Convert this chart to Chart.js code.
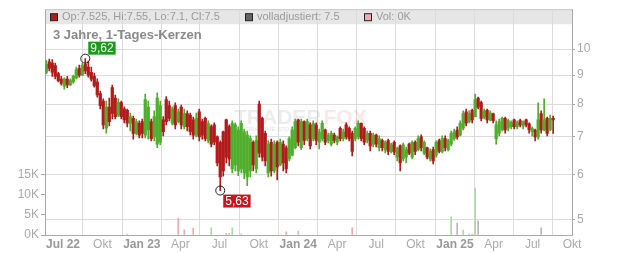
<!DOCTYPE html>
<html>
<head>
<meta charset="utf-8">
<script src="https://cdn.jsdelivr.net/npm/chart.js@4.4.1/dist/chart.umd.min.js"></script>
<style>
  body { margin: 0; background: #fff; }
  canvas { display: block; }
</style>
</head>
<body>
<canvas id="chart" width="632" height="253"></canvas>
<script>
// ---------------- DATA (weekly candles) ----------------
const firstWeek = "2022-05-23";

const open = [
  9.10, 9.50, 9.45, 9.35, 9.05, 8.85, 8.60, 8.85, 8.65, 8.75,
  8.90, 9.25, 9.00, 9.40, 9.30, 9.10, 8.95, 8.75, 8.35, 8.10,
  7.25, 7.90, 8.55, 8.20, 7.65, 8.05, 7.85, 7.80, 7.40, 7.55,
  7.10, 7.40, 7.45, 7.05, 7.20, 7.45, 7.00, 6.80, 6.85, 7.50,
  8.15, 7.95, 7.40, 7.95, 7.45, 7.90, 7.30, 7.70, 7.65, 7.50,
  7.05, 7.75, 7.45, 7.55, 6.90, 7.30, 7.35, 7.00, 6.85, 7.15,
  7.50, 7.30, 6.15, 6.25, 6.10, 6.15, 6.05, 5.95, 6.10, 6.85,
  6.15, 8.00, 7.55, 7.10, 6.05, 6.85, 6.10, 6.85, 6.25, 6.80,
  6.70, 6.40, 6.50, 6.70, 7.50, 6.70, 7.45, 6.95, 7.35, 6.95,
  7.35, 6.85, 6.95, 7.20, 6.90, 6.80, 7.05, 6.85, 7.25, 6.95,
  7.35, 7.25, 7.10, 6.95, 7.00, 7.40, 7.25, 6.90, 7.10, 6.80,
  7.05, 6.70, 6.90, 6.65, 6.90, 6.60, 6.85, 6.45, 6.75, 6.40,
  6.45, 6.80, 6.45, 6.85, 6.65, 7.00, 6.55, 6.70, 6.40, 6.65,
  6.50, 6.90, 6.60, 6.95, 6.65, 6.80, 6.95, 7.20, 7.05, 7.25,
  7.75, 7.45, 7.80, 7.60, 8.20, 8.05, 7.58, 7.80, 7.50, 7.70,
  6.95, 7.10, 7.20, 7.55, 7.25, 7.30, 7.50, 7.30, 7.48, 7.32,
  7.50, 7.38, 7.15, 7.20, 7.00, 7.70, 7.20, 7.55, 7.20, 7.55
];
const high = [
  9.55, 9.60, 9.58, 9.45, 9.10, 8.95, 8.90, 8.95, 8.86, 9.00,
  9.30, 9.37, 9.45, 9.62, 9.53, 9.30, 9.07, 8.86, 8.43, 8.17,
  8.10, 8.20, 8.64, 8.30, 8.17, 8.10, 7.91, 7.84, 7.71, 7.62,
  7.53, 7.47, 7.53, 8.33, 8.10, 7.53, 7.78, 8.37, 8.10, 7.60,
  8.25, 8.10, 7.91, 8.04, 7.84, 7.97, 7.84, 7.78, 7.71, 7.59,
  7.71, 7.84, 7.53, 7.59, 7.47, 7.35, 7.41, 7.03, 6.89, 7.17,
  7.53, 7.35, 7.47, 7.41, 7.29, 7.47, 7.23, 7.17, 7.03, 6.89,
  7.03, 8.10, 7.59, 7.17, 6.89, 6.94, 6.89, 6.89, 6.94, 6.89,
  6.75, 7.00, 7.29, 7.53, 7.53, 7.53, 7.47, 7.53, 7.41, 7.47,
  7.41, 7.23, 7.47, 7.23, 7.11, 7.17, 7.11, 7.03, 7.29, 7.23,
  7.41, 7.29, 7.17, 7.29, 7.47, 7.41, 7.29, 7.17, 7.17, 7.11,
  7.08, 7.03, 6.94, 6.89, 6.94, 6.83, 6.89, 6.72, 6.78, 6.83,
  6.72, 6.83, 6.89, 6.89, 7.03, 7.06, 6.89, 6.72, 6.67, 6.72,
  6.89, 6.94, 7.03, 7.03, 6.94, 7.17, 7.23, 7.29, 7.47, 7.78,
  7.84, 7.78, 7.84, 8.33, 8.23, 8.10, 7.84, 7.84, 7.78, 7.71,
  7.47, 7.53, 7.59, 7.59, 7.53, 7.47, 7.53, 7.47, 7.53, 7.47,
  7.53, 7.41, 7.29, 7.23, 8.04, 7.78, 8.17, 7.59, 7.65, 7.62
];
const low = [
  9.05, 9.15, 8.95, 8.86, 8.75, 8.64, 8.50, 8.55, 8.62, 8.70,
  8.86, 8.92, 8.98, 9.05, 8.92, 8.78, 8.57, 8.23, 7.84, 7.23,
  7.11, 7.32, 7.53, 7.53, 7.60, 7.53, 7.41, 7.29, 7.17, 6.94,
  7.06, 6.97, 6.97, 6.97, 6.94, 6.89, 6.89, 6.70, 6.78, 7.03,
  7.35, 7.47, 7.35, 7.23, 7.41, 7.23, 7.23, 7.17, 7.06, 6.94,
  7.00, 6.89, 6.94, 6.89, 6.83, 6.72, 6.78, 6.22, 5.63, 5.97,
  6.30, 6.22, 6.05, 6.10, 5.98, 6.05, 5.91, 5.74, 5.95, 6.10,
  6.05, 6.45, 6.35, 6.22, 5.95, 5.97, 6.05, 5.88, 6.22, 6.10,
  6.05, 6.35, 6.48, 6.67, 6.75, 6.65, 6.78, 6.89, 6.67, 6.89,
  6.78, 6.67, 6.89, 6.78, 6.83, 6.75, 6.83, 6.78, 6.89, 6.89,
  6.94, 6.89, 6.48, 6.89, 6.94, 6.89, 6.78, 6.83, 6.61, 6.72,
  6.72, 6.61, 6.61, 6.56, 6.51, 6.56, 6.51, 6.35, 6.10, 6.35,
  6.30, 6.51, 6.40, 6.51, 6.61, 6.61, 6.51, 6.40, 6.35, 6.27,
  6.45, 6.56, 6.56, 6.61, 6.61, 6.75, 6.90, 6.94, 7.03, 7.20,
  7.32, 7.41, 7.41, 7.59, 7.84, 7.47, 7.53, 7.41, 7.47, 7.41,
  6.80, 7.03, 7.17, 7.11, 7.17, 7.23, 7.23, 7.23, 7.29, 7.23,
  7.29, 7.11, 7.03, 6.89, 6.94, 7.11, 7.17, 7.03, 7.17, 7.10
];
const close = [
  9.40, 9.25, 9.10, 8.95, 8.80, 8.70, 8.85, 8.65, 8.80, 8.95,
  9.20, 9.00, 9.35, 9.15, 9.00, 8.85, 8.62, 8.30, 7.95, 7.35,
  7.90, 7.45, 7.70, 7.60, 8.05, 7.60, 7.50, 7.40, 7.60, 7.10,
  7.45, 7.05, 7.10, 8.15, 7.90, 6.95, 7.60, 8.20, 7.95, 7.15,
  7.45, 7.55, 7.85, 7.35, 7.75, 7.35, 7.70, 7.30, 7.15, 7.05,
  7.55, 7.00, 7.05, 6.95, 7.40, 6.80, 6.85, 6.30, 5.95, 6.10,
  6.45, 6.40, 7.40, 7.35, 7.20, 7.40, 7.15, 7.05, 6.95, 6.25,
  6.90, 6.55, 6.45, 6.35, 6.80, 6.10, 6.80, 6.20, 6.85, 6.30,
  6.15, 6.95, 7.20, 7.45, 6.85, 7.45, 6.90, 7.45, 6.75, 7.40,
  6.90, 7.15, 7.40, 6.85, 7.05, 7.10, 6.90, 7.00, 6.95, 7.15,
  7.00, 6.95, 6.60, 7.25, 7.40, 6.95, 6.85, 7.10, 6.75, 7.05,
  6.80, 6.95, 6.70, 6.85, 6.60, 6.78, 6.58, 6.68, 6.30, 6.78,
  6.65, 6.55, 6.85, 6.60, 6.95, 6.70, 6.85, 6.45, 6.60, 6.35,
  6.85, 6.60, 6.95, 6.70, 6.90, 7.10, 7.15, 7.00, 7.40, 7.70,
  7.40, 7.70, 7.50, 8.15, 7.90, 7.55, 7.78, 7.50, 7.72, 7.48,
  7.35, 7.45, 7.55, 7.20, 7.48, 7.42, 7.30, 7.42, 7.35, 7.45,
  7.35, 7.20, 7.25, 7.00, 7.50, 7.20, 7.50, 7.10, 7.55, 7.50
];

// volume: week index, shares, direction (u = up, d = down, n = unchanged)
const volWeek = [27, 44, 46, 49, 55, 60, 61, 62, 65, 80, 84, 102, 135, 137, 139, 141, 142, 143, 144, 165];
const volValue = [200, 4200, 1300, 1700, 1800, 400, 400, 1800, 300, 800, 1000, 1800, 4500, 3000, 1200, 300, 200, 11700, 3500, 1800];
const volDir = ["d", "d", "d", "d", "u", "d", "d", "u", "u", "d", "u", "d", "u", "n", "u", "u", "d", "u", "n", "n"];

const tickDates = ["2022-07-01", "2022-10-01", "2023-01-01", "2023-04-01", "2023-07-01", "2023-10-01", "2024-01-01",
                   "2024-04-01", "2024-07-01", "2024-10-01", "2025-01-01", "2025-04-01", "2025-07-01", "2025-10-01"];
const tickLabels = ["Jul 22", "Okt", "Jan 23", "Apr", "Jul", "Okt", "Jan 24", "Apr", "Jul", "Okt", "Jan 25", "Apr", "Jul", "Okt"];
const priceTicks = [5, 6, 7, 8, 9, 10];
const volTicks = [0, 5000, 10000, 15000];

const lastBar = { op: "7.525", hi: "7.55", lo: "7.1", cl: "7.5", adj: "7.5", vol: "0K" };

// ---------------- HELPERS ----------------
const RED = "#b31b1b";
const GREEN = "#4fae2c";
const FONT = "'Liberation Sans', Arial, sans-serif";

function dayNum(iso) {
    const d = new Date(iso + "T00:00:00Z");
    return (d - Date.UTC(2022, 0, 1)) / 86400000;
}
const weekDay = i => dayNum(firstWeek) + 7 * i;

const wickData = high.map((h, i) => ({ x: weekDay(i), y: [low[i], h] }));
const bodyData = open.map((o, i) => ({ x: weekDay(i), y: [Math.min(o, close[i]), Math.max(o, close[i])] }));
const volData = volWeek.map((w, i) => ({ x: weekDay(w), y: volValue[i] }));
const candleColor = ctx => close[ctx.dataIndex] >= open[ctx.dataIndex] ? GREEN : RED;
const volColor = ctx => ({ u: "#a8dca0", d: "#f2a9b0", n: "#b8b8b8" })[volDir[ctx.dataIndex]];

const hiIdx = high.indexOf(Math.max(...high));
const loIdx = low.indexOf(Math.min(...low));

// ---------------- DECORATION PLUGIN ----------------
const decor = {
    id: "decor",
    beforeDraw(chart) {
        const { ctx, chartArea: a } = chart;
        ctx.save();
        ctx.fillStyle = "#fff";
        ctx.fillRect(0, 0, chart.width, chart.height);
        ctx.fillStyle = "#e6e6e6";
        ctx.fillRect(a.left, a.top, a.right - a.left, 15);
        ctx.restore();
    },
    beforeDatasetsDraw(chart) {
        const { ctx } = chart;
        ctx.save();
        ctx.font = "bold 21px " + FONT;
        ctx.textBaseline = "alphabetic";
        ctx.fillStyle = "rgba(0,0,0,0.075)";
        const tw = ctx.measureText("TRADER").width;
        ctx.fillText("TRADER", 234, 124);
        ctx.fillStyle = "rgba(230,40,40,0.11)";
        ctx.fillText("FOX", 234 + tw + 2, 124);
        ctx.font = "6px " + FONT;
        ctx.fillStyle = "rgba(0,0,0,0.12)";
        ctx.fillText("REALTIME STOCK ANALYSIS", 246, 131);
        ctx.restore();
    },
    afterDatasetsDraw(chart) {
        const { ctx, scales } = chart;
        const x = scales.x, y = scales.y;
        ctx.save();
        ctx.font = "12px " + FONT;
        ctx.textBaseline = "middle";

        const hx = x.getPixelForValue(weekDay(hiIdx)), hy = y.getPixelForValue(high[hiIdx]);
        const lx = x.getPixelForValue(weekDay(loIdx)), ly = y.getPixelForValue(low[loIdx]);
        [[hx, hy], [lx, ly]].forEach(([px, py]) => {
            ctx.beginPath();
            ctx.arc(px, py, 4.5, 0, Math.PI * 2);
            ctx.strokeStyle = "#222";
            ctx.lineWidth = 1;
            ctx.stroke();
        });

        const hiTxt = high[hiIdx].toFixed(2).replace(".", ",");
        const loTxt = low[loIdx].toFixed(2).replace(".", ",");
        let w = ctx.measureText(hiTxt).width + 4;
        ctx.fillStyle = "#1c9a1c";
        ctx.fillRect(hx + 3, hy - 17, w, 13);
        ctx.fillStyle = "#fff";
        ctx.fillText(hiTxt, hx + 5, hy - 10);
        w = ctx.measureText(loTxt).width + 4;
        ctx.fillStyle = "#c8141e";
        ctx.fillRect(lx + 3, ly + 4, w, 13);
        ctx.fillStyle = "#fff";
        ctx.fillText(loTxt, lx + 5, ly + 11);
        ctx.restore();
    },
    afterDraw(chart) {
        const { ctx, chartArea: a } = chart;
        ctx.save();
        ctx.strokeStyle = "#c8c8c8";
        ctx.lineWidth = 1;
        ctx.beginPath();
        ctx.moveTo(a.left, a.top + 0.5);
        ctx.lineTo(a.right, a.top + 0.5);
        ctx.stroke();

        // legend row
        ctx.font = "11px " + FONT;
        ctx.textBaseline = "middle";
        const ly = a.top + 8;
        const items = [
            [RED, `Op:${lastBar.op}, Hi:${lastBar.hi}, Lo:${lastBar.lo}, Cl:${lastBar.cl}`, a.left + 5],
            ["#666", `volladjustiert: ${lastBar.adj}`, 245],
            ["#f2a9b0", `Vol: ${lastBar.vol}`, 364]
        ];
        items.forEach(([c, t, x0]) => {
            ctx.fillStyle = c;
            ctx.fillRect(x0 + 0.5, ly - 3.5, 7, 7);
            ctx.strokeStyle = "#222";
            ctx.strokeRect(x0 + 0.5, ly - 3.5, 7, 7);
            ctx.fillStyle = "#9a9a9a";
            ctx.fillText(t, x0 + 12, ly);
        });

        ctx.font = "bold 13px " + FONT;
        ctx.fillStyle = "#8a8a8a";
        ctx.textBaseline = "alphabetic";
        ctx.fillText("3 Jahre, 1-Tages-Kerzen", a.left + 8, a.top + 30);
        ctx.restore();
    }
};

// ---------------- CHART ----------------
new Chart(document.getElementById("chart"), {
    type: "bar",
    data: {
        datasets: [
            { data: volData, yAxisID: "yv", backgroundColor: volColor, barThickness: 1, grouped: false, order: 3 },
            { data: wickData, yAxisID: "y", backgroundColor: candleColor, barThickness: 1, grouped: false, order: 2 },
            { data: bodyData, yAxisID: "y", backgroundColor: candleColor, barThickness: 2.6, grouped: false, order: 1, minBarLength: 1 }
        ]
    },
    options: {
        responsive: false,
        animation: false,
        events: [],
        layout: { padding: { top: 8, left: 0, right: 0, bottom: 0 } },
        plugins: { legend: { display: false }, tooltip: { enabled: false } },
        scales: {
            x: {
                type: "linear",
                offset: false,
                min: dayNum("2022-05-20"),
                max: dayNum("2025-10-01"),
                afterBuildTicks: s => { s.ticks = tickDates.map(d => ({ value: dayNum(d) })); },
                afterFit: s => { s.height = 18; },
                grid: { color: "#dcdcdc", drawTicks: false },
                border: { color: "#aaa" },
                ticks: {
                    autoSkip: false,
                    maxRotation: 0,
                    padding: 2,
                    callback: (v, i) => tickLabels[i],
                    color: ctx => /\d/.test(tickLabels[ctx.index] || "") ? "#999" : "#aaa",
                    font: ctx => ({ family: FONT, size: 12, weight: /\d/.test(tickLabels[ctx.index] || "") ? "bold" : "normal" })
                }
            },
            y: {
                type: "logarithmic",
                position: "right",
                min: 4.72,
                max: 11.76,
                afterBuildTicks: s => { s.ticks = priceTicks.map(v => ({ value: v })); },
                afterFit: s => { s.width = 60; },
                grid: { color: "#dcdcdc", tickLength: 3, tickColor: "#aaa" },
                border: { color: "#aaa" },
                ticks: { color: "#aaa", padding: 2, font: { family: FONT, size: 12 }, callback: v => String(v) }
            },
            yv: {
                type: "linear",
                position: "left",
                min: 0,
                max: 56250,
                afterBuildTicks: s => { s.ticks = volTicks.map(v => ({ value: v })); },
                afterFit: s => { s.width = 45; },
                grid: { drawOnChartArea: false, tickLength: 4, tickColor: "#aaa" },
                border: { color: "#aaa" },
                ticks: { color: "#aaa", padding: 2, font: { family: FONT, size: 12 }, callback: v => (v / 1000) + "K" }
            }
        }
    },
    plugins: [decor]
});
</script>
</body>
</html>
